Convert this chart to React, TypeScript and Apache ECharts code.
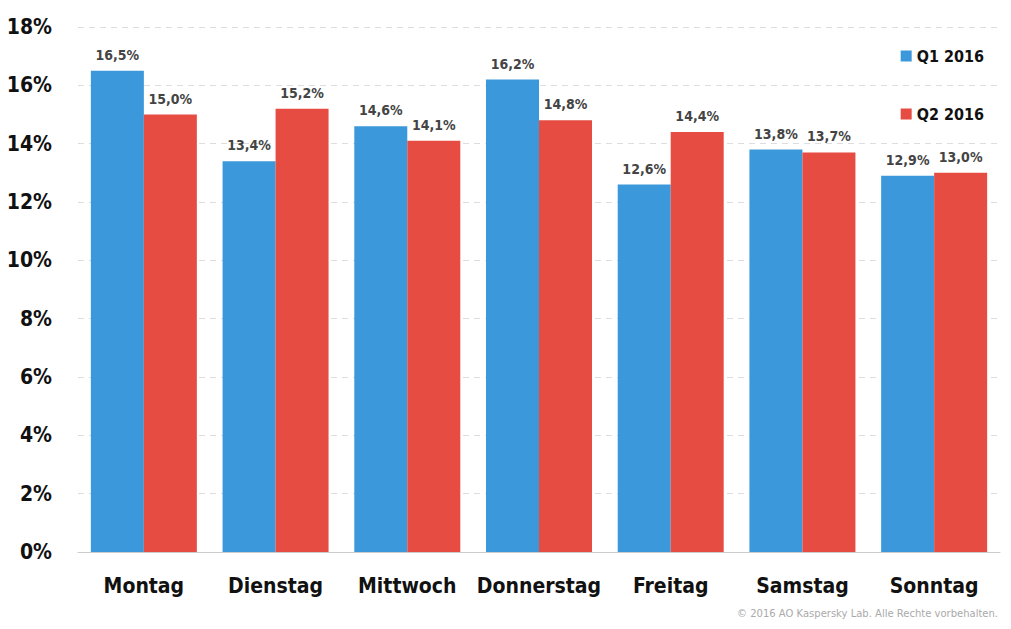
import React, { useEffect, useRef } from "react";
import * as echarts from "echarts";

const categories = ["Montag", "Dienstag", "Mittwoch", "Donnerstag", "Freitag", "Samstag", "Sonntag"];
const q1Values = [16.5, 13.4, 14.6, 16.2, 12.6, 13.8, 12.9];
const q2Values = [15.0, 15.2, 14.1, 14.8, 14.4, 13.7, 13.0];
const seriesNames = ["Q1 2016", "Q2 2016"];
const copyright = "© 2016 AO Kaspersky Lab. Alle Rechte vorbehalten.";

const FONT = '"Liberation Sans Narrow", "DejaVu Sans Condensed", "Roboto Condensed", sans-serif';

export default function App() {
  const ref = useRef<HTMLDivElement>(null);
  useEffect(() => {
    const chart = echarts.init(ref.current!, null, { renderer: "svg" });
    const fmt = (v: number) => `${v.toFixed(1).replace(".", ",")}%`;
    const label = {
      show: true,
      position: "top",
      distance: 9,
      color: "#444",
      fontFamily: FONT,
      fontWeight: "bold",
      fontSize: 14,
      formatter: (p: any) => fmt(p.value),
    };
    chart.setOption({
      animation: false,
      backgroundColor: "#fff",
      grid: { left: 78, right: 11, top: 27, bottom: 77, containLabel: false },
      legend: {
        orient: "vertical",
        right: 22,
        top: 43,
        itemGap: 42,
        itemWidth: 11,
        itemHeight: 11,
        icon: "rect",
        textStyle: { fontFamily: FONT, fontWeight: "bold", fontSize: 16, color: "#111" },
        data: seriesNames,
      },
      xAxis: {
        type: "category",
        data: categories,
        axisLine: { lineStyle: { color: "#ccc" } },
        axisTick: { show: false },
        axisLabel: { interval: 0, margin: 23, fontFamily: FONT, fontWeight: "bold", fontSize: 21, color: "#111" },
      },
      yAxis: {
        type: "value",
        min: 0,
        max: 18,
        interval: 2,
        axisLine: { show: false },
        axisTick: { show: false },
        splitLine: { lineStyle: { color: "#ddd", type: [6, 5] } },
        axisLabel: {
          margin: 26,
          formatter: "{value}%",
          fontFamily: FONT,
          fontWeight: "bold",
          fontSize: 21,
          color: "#111",
        },
      },
      series: [
        {
          name: seriesNames[0],
          type: "bar",
          data: q1Values,
          barWidth: 53,
          barGap: "0%",
          itemStyle: { color: "#3b98da", borderWidth: 0 },
          label,
        },
        {
          name: seriesNames[1],
          type: "bar",
          data: q2Values,
          barWidth: 53,
          barGap: "0%",
          itemStyle: { color: "#e64c42", borderWidth: 0 },
          label,
        },
      ],
      graphic: [
        {
          type: "text",
          right: 13,
          top: 608,
          style: {
            text: copyright,
            fill: "#aaa",
            fontSize: 10,
            fontFamily: '"DejaVu Sans", sans-serif',
          },
        },
      ],
    });
    return () => chart.dispose();
  }, []);
  return <div ref={ref} style={{ position: "fixed", left: 0, top: 0, width: 1011, height: 629 }} />;
}
